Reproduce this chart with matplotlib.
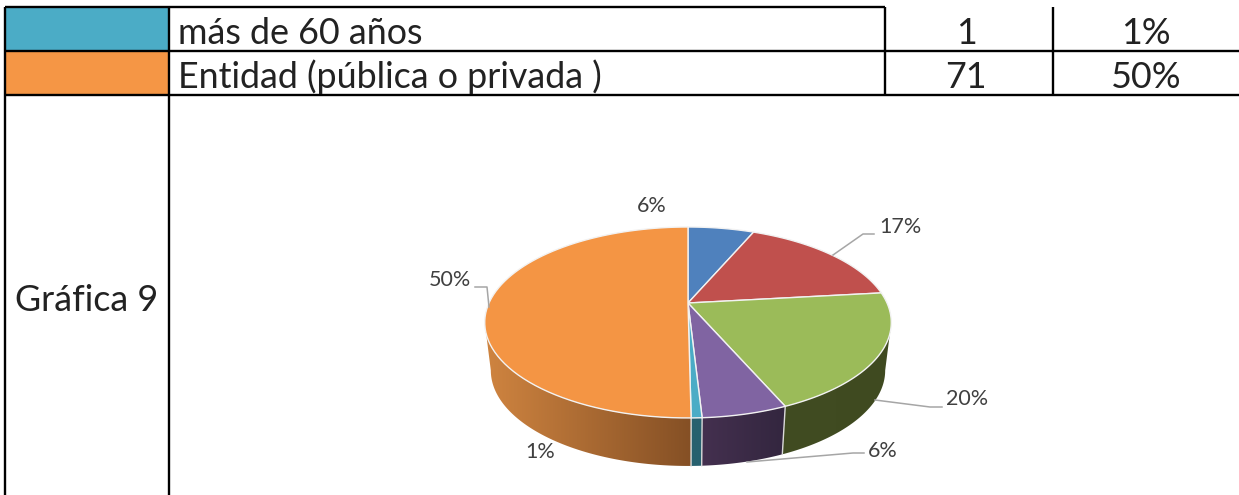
#!/usr/bin/env python3
import numpy as np
import matplotlib
matplotlib.use("Agg")
import matplotlib.pyplot as plt
from matplotlib.patches import Polygon, Rectangle
from matplotlib.colors import to_rgb

# slice sizes (labels are the rounded ones)
pie_values = [6.4, 16.8, 20.3, 5.6, 0.7, 50.2]
pie_labels = ["6%", "17%", "20%", "6%", "1%", "50%"]
top_colors = ["#4F81BD", "#C0504D", "#9BBB59", "#8064A2", "#4BACC6", "#F49544"]
wall_left = ["#2F4D71", "#73302E", "#414C22", "#44304F", "#27616F", "#CF8440"]
wall_right = ["#2F4D71", "#73302E", "#3F4A20", "#33263F", "#27616F", "#855025"]

table_rows = ["más de 60 años", "Entidad (pública o privada )"]
table_counts = ["1", "71"]
table_pcts = ["1%", "50%"]
row_colors = ["#4BACC6", "#F59645"]
side_label = "Gráfica 9"

W, H = 1239, 495
TABLE_FONT = "Lato"
LABEL_FONT = "Lato"
TABLE_SIZE = 25.8

# fake 3d pie: perspective projection of a circle
CX, APEX_TOP, APEX_BOT = 688, 303, 351
RX, RY, K = 199, 91.5, 0.204
BOT_SCALE = 0.97
# angles where the outline is widest, the wall only shows between them
FRONT_START = np.arccos(-K)
FRONT_END = 2 * np.pi - FRONT_START


def project(a, bottom=False):
    w = 1 + K * np.cos(a)
    dx = RX * np.sin(a) / w
    dy = RY * np.cos(a) / w
    if bottom:
        return CX + dx * BOT_SCALE, APEX_BOT - dy
    return CX + dx, APEX_TOP - dy


fig = plt.figure(figsize=(W / 100, H / 100), dpi=100)
ax = fig.add_axes([0, 0, 1, 1])

# table
ax.add_patch(Rectangle((5, 7), 164, 44, color=row_colors[0], lw=0))
ax.add_patch(Rectangle((5, 51), 164, 44, color=row_colors[1], lw=0))
line = dict(color="black", lw=1.7, solid_capstyle="butt")
ax.plot([5, 885], [7, 7], **line)
ax.plot([5, W], [51, 51], **line)
ax.plot([5, W], [95, 95], **line)
ax.plot([5, 5], [7, H], **line)
ax.plot([169, 169], [7, H], **line)
ax.plot([885, 885], [7, 95], **line)
ax.plot([1053, 1053], [7, 95], **line)

for i, y in enumerate([44, 88]):
    ax.text(178, y, table_rows[i], fontsize=TABLE_SIZE, family=TABLE_FONT, color="#222222", va="baseline")
    ax.text(966, y, table_counts[i], fontsize=TABLE_SIZE, family=TABLE_FONT, color="#222222", va="baseline", ha="center")
    ax.text(1146, y, table_pcts[i], fontsize=TABLE_SIZE, family=TABLE_FONT, color="#222222", va="baseline", ha="center")
ax.text(87, 311, side_label, fontsize=TABLE_SIZE, family=TABLE_FONT, color="#222222", va="baseline", ha="center")

# pie
edges = np.cumsum([0] + pie_values) / sum(pie_values) * 2 * np.pi

# side walls with a left to right gradient
for i in range(len(pie_values)):
    a1, a2 = max(edges[i], FRONT_START), min(edges[i + 1], FRONT_END)
    if a2 <= a1:
        continue
    angles = np.linspace(a1, a2, 120)
    xt, yt = project(angles)
    xb, yb = project(angles, bottom=True)
    outline = list(zip(xt, yt)) + list(zip(xb[::-1], yb[::-1]))
    xmin, xmax = min(xt.min(), xb.min()), max(xt.max(), xb.max())
    ymin, ymax = min(yt.min(), yb.min()), max(yt.max(), yb.max())
    c_l, c_r = np.array(to_rgb(wall_left[i])), np.array(to_rgb(wall_right[i]))
    ramp = np.linspace(0, 1, 64)[None, :, None]
    grad = c_l[None, None, :] + (c_r - c_l)[None, None, :] * ramp
    im = ax.imshow(grad, extent=(xmin, xmax, ymax, ymin), aspect="auto", zorder=2, interpolation="bilinear")
    im.set_clip_path(Polygon(outline, closed=True, transform=ax.transData))
    # light seam between slices on the wall
    if FRONT_START < edges[i + 1] < FRONT_END and i < len(pie_values) - 1:
        ax.plot([xt[-1], xb[-1]], [yt[-1], yb[-1]], color="#D9D9D9", lw=1, zorder=3)

# top face
for i in range(len(pie_values)):
    angles = np.linspace(edges[i], edges[i + 1], 80)
    xt, yt = project(angles)
    pts = [(CX, APEX_TOP)] + list(zip(xt, yt))
    ax.add_patch(Polygon(pts, closed=True, facecolor=top_colors[i], edgecolor="#F2F2F2", lw=1, zorder=4))

# labels and leader lines
leaders = [
    [(833, 255), (863, 234), (874, 234)],
    [(875, 400), (930, 407), (942, 407)],
    [(747, 462), (853, 453), (864, 453)],
    [(475, 287), (487, 287), (489, 307)],
]
for pts in leaders:
    ax.plot([p[0] for p in pts], [p[1] for p in pts], color="#A6A6A6", lw=1.1, zorder=5)

label_pos = [(652, 206), (900, 227), (967, 399), (883, 451), (540, 452), (450, 280)]
for lab, (x, y) in zip(pie_labels, label_pos):
    ax.text(x, y, lab, fontsize=15.5, family=LABEL_FONT, color="#404040", ha="center", va="center", zorder=6)

ax.set_xlim(0, W)
ax.set_ylim(H, 0)
ax.axis("off")

fig.savefig("out.png", dpi=100)
plt.close(fig)
